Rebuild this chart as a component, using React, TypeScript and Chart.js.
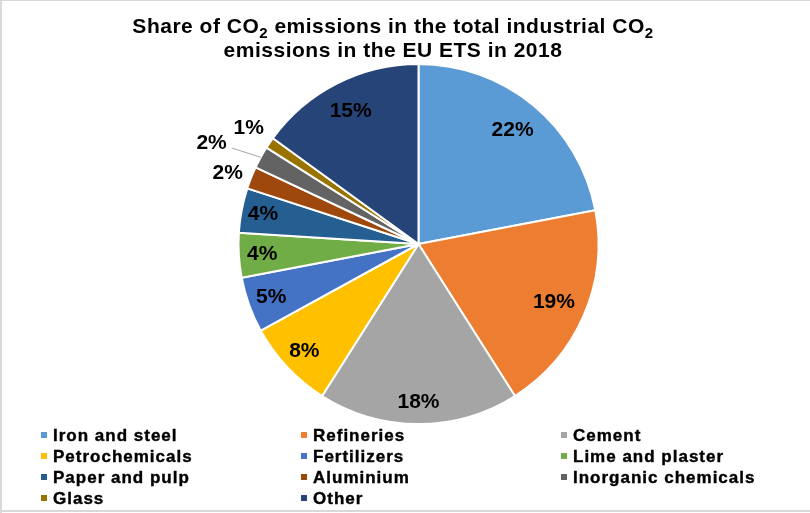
import React, { useEffect, useRef } from "react";
import { Chart, registerables } from "chart.js";

Chart.register(...registerables);

// Sectors and their share of industrial CO2 emissions (%)
const sectors = [
  "Iron and steel",
  "Refineries",
  "Cement",
  "Petrochemicals",
  "Fertilizers",
  "Lime and plaster",
  "Paper and pulp",
  "Aluminium",
  "Inorganic chemicals",
  "Glass",
  "Other",
];
const shares = [22, 19, 18, 8, 5, 4, 4, 2, 2, 1, 15];
const sectorColors = [
  "#5B9BD5",
  "#ED7D31",
  "#A5A5A5",
  "#FFC000",
  "#4472C4",
  "#70AD47",
  "#255E91",
  "#9E480E",
  "#636363",
  "#997300",
  "#264478",
];

// Title pieces; "sub" marks subscript text
const titleLine1 = [
  { text: "Share of CO" },
  { text: "2", sub: true },
  { text: " emissions in the total industrial CO" },
  { text: "2", sub: true },
];
const titleLine2 = [{ text: "emissions in the EU ETS in 2018" }];

// Distance of each value label from the centre, as a fraction of the radius,
// plus a small pixel nudge for the labels that sit outside the pie
const labelRadius = [0.82, 0.82, 0.88, 0.87, 0.87, 0.87, 0.88, 1.14, 1.28, 1.14, 0.83];
const labelNudge: [number, number][] = [
  [0, 0], [0, 0], [0, 0], [0, 0], [0, 0], [0, 0], [0, 0], [0, 5], [-5, 10], [0, 0], [0, 0],
];

const FONT = "'Liberation Sans', Arial, sans-serif";

type Piece = { text: string; sub?: boolean };

function drawRichLine(ctx: CanvasRenderingContext2D, pieces: Piece[], cx: number, baseline: number) {
  const setFont = (p: Piece) => {
    ctx.font = p.sub ? `bold 15px ${FONT}` : `bold 21px ${FONT}`;
    (ctx as any).letterSpacing = "0.5px";
  };
  let total = 0;
  const widths = pieces.map((p) => {
    setFont(p);
    const w = ctx.measureText(p.text).width;
    total += w;
    return w;
  });
  let x = cx - total / 2;
  pieces.forEach((p, i) => {
    setFont(p);
    ctx.fillText(p.text, x, p.sub ? baseline + 5 : baseline);
    x += widths[i];
  });
}

const decor = {
  id: "decor",
  beforeDraw(chart: any) {
    const ctx: CanvasRenderingContext2D = chart.ctx;
    ctx.save();
    ctx.fillStyle = "#ffffff";
    ctx.fillRect(0, 0, chart.width, chart.height);
    ctx.fillStyle = "#d9d9d9";
    ctx.fillRect(0, 0, chart.width, 1);
    ctx.fillRect(0, 0, 2, chart.height);
    ctx.fillRect(0, 510, chart.width, 2);
    ctx.restore();
  },
  afterDatasetsDraw(chart: any) {
    const ctx: CanvasRenderingContext2D = chart.ctx;
    const meta = chart.getDatasetMeta(0);
    ctx.save();
    ctx.font = `bold 21px ${FONT}`;
    ctx.textAlign = "center";
    ctx.textBaseline = "middle";
    meta.data.forEach((arc: any, i: number) => {
      const { x, y, startAngle, endAngle, outerRadius } = arc.getProps(
        ["x", "y", "startAngle", "endAngle", "outerRadius"],
        true
      );
      const mid = (startAngle + endAngle) / 2;
      const f = labelRadius[i];
      const lx = x + Math.cos(mid) * outerRadius * f + labelNudge[i][0];
      const ly = y + Math.sin(mid) * outerRadius * f + labelNudge[i][1];
      const text = `${shares[i]}%`;
      if (f > 1.2) {
        const w = ctx.measureText(text).width;
        ctx.strokeStyle = "#A6A6A6";
        ctx.lineWidth = 1;
        ctx.beginPath();
        ctx.moveTo(lx + w / 2 + 5, ly + 5);
        ctx.lineTo(x + Math.cos(mid) * outerRadius, y + Math.sin(mid) * outerRadius);
        ctx.stroke();
      }
      ctx.fillStyle = "#000000";
      ctx.fillText(text, lx, ly);
    });
    ctx.restore();
  },
  afterDraw(chart: any) {
    const ctx: CanvasRenderingContext2D = chart.ctx;
    ctx.save();
    ctx.fillStyle = "#000000";
    ctx.textAlign = "left";
    ctx.textBaseline = "alphabetic";
    drawRichLine(ctx, titleLine1, 393, 33);
    drawRichLine(ctx, titleLine2, 393, 57);

    // Legend in three columns
    const colX = [41, 301, 561];
    ctx.font = `bold 17px ${FONT}`;
    (ctx as any).letterSpacing = "1px";
    ctx.strokeStyle = "#000000";
    ctx.lineWidth = 0.4;
    sectors.forEach((name, i) => {
      const x0 = colX[i % 3];
      const base = 441 + Math.floor(i / 3) * 21;
      ctx.fillStyle = sectorColors[i];
      ctx.fillRect(x0, base - 9, 6, 6);
      ctx.fillStyle = "#000000";
      ctx.fillText(name, x0 + 12, base);
      ctx.strokeText(name, x0 + 12, base);
    });
    ctx.restore();
  },
};

export default function App() {
  const ref = useRef<HTMLCanvasElement>(null);
  useEffect(() => {
    const chart = new Chart(ref.current!, {
      type: "pie",
      data: {
        labels: sectors,
        datasets: [
          {
            data: shares,
            backgroundColor: sectorColors,
            borderColor: "#ffffff",
            borderWidth: 2,
            radius: 180,
          } as any,
        ],
      },
      options: {
        responsive: false,
        animation: false,
        layout: { padding: { left: 27, right: 0, top: 40, bottom: 65 } },
        plugins: {
          legend: { display: false },
          title: { display: false },
          tooltip: { enabled: false },
        },
      },
      plugins: [decor],
    });
    return () => chart.destroy();
  }, []);
  return (
    <div style={{ position: "fixed", left: 0, top: 0, width: 810, height: 513, background: "#fff" }}>
      <canvas ref={ref} width={810} height={513} style={{ display: "block" }} />
    </div>
  );
}
